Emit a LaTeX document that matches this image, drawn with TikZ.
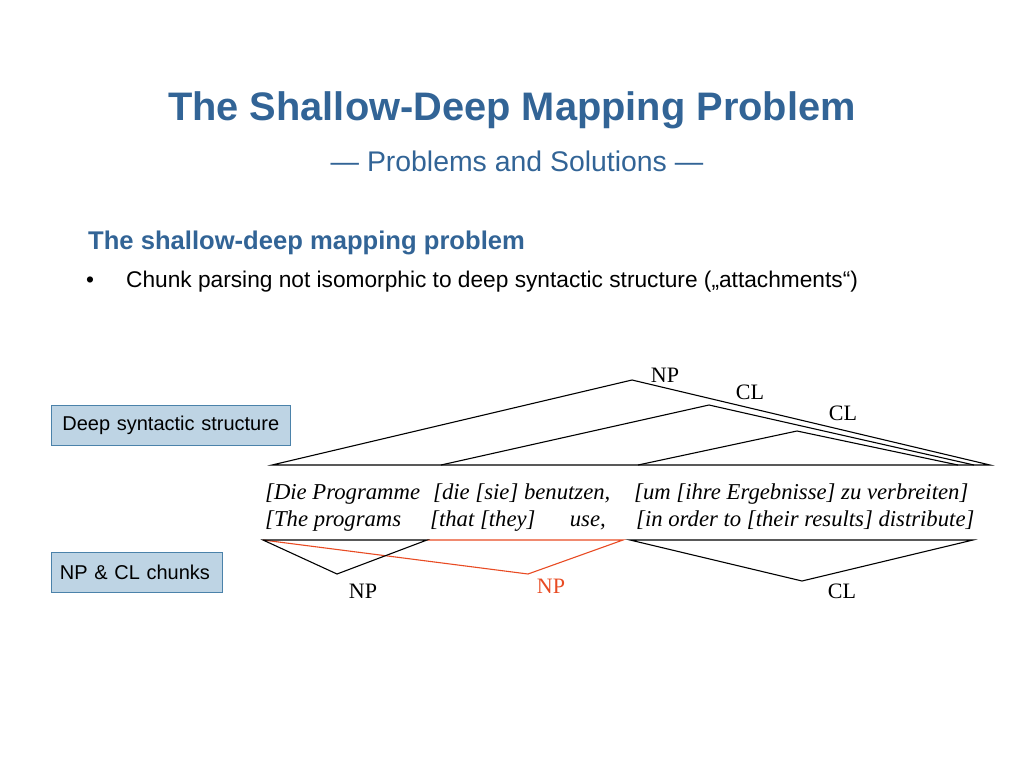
\documentclass[tikz,border=0pt]{standalone}
\usepackage{fontspec}
\setmainfont{Liberation Serif}
\setsansfont{Liberation Sans}
\definecolor{titleblue}{RGB}{50,100,150}
\definecolor{boxfill}{RGB}{190,212,228}
\definecolor{boxline}{RGB}{75,130,170}
\definecolor{chunkred}{RGB}{232,75,35}
\usetikzlibrary{positioning}
\tikzset{
  tag/.style={draw=boxline,fill=boxfill,line width=0.8pt,anchor=north west,
              inner xsep=11pt,align=left,minimum height=40pt,
              font=\sffamily\fontsize{20}{24}\selectfont},
  sent/.style={anchor=base west,inner sep=0pt,font=\itshape\fontsize{22.7}{26}\selectfont},
  cat/.style={inner sep=0pt,font=\fontsize{22}{26}\selectfont},
  tree/.style={line width=1.1pt,line join=miter},
}

\begin{document}
\begin{tikzpicture}[x=1pt,y=-1pt]
  \useasboundingbox (0,0) rectangle (1024,768);
  % heading
  \node[text=titleblue,font=\sffamily\bfseries\fontsize{39.8}{46}\selectfont] (title) at (512,110)
    {The Shallow-Deep Mapping Problem};
  \node[text=titleblue,font=\sffamily\fontsize{28.4}{32}\selectfont] (sub) at (517,161)
    {— Problems and Solutions —};
  \node[text=titleblue,anchor=west,inner sep=0pt,font=\sffamily\bfseries\fontsize{25.6}{30}\selectfont] (head) at (88,243)
    {The shallow-deep mapping problem};
  \node[anchor=west,inner sep=0pt,font=\sffamily\fontsize{22.7}{26}\selectfont] (dot) at (86,282) {•};
  \node[anchor=west,inner sep=0pt,font=\sffamily\fontsize{22.7}{26}\selectfont] (point) at (126,282)
    {Chunk parsing not isomorphic to deep syntactic structure („attachments“)};
  % side boxes
  \node[tag,text width=217pt] (deep) at (51,405) {Deep syntactic structure};
  \node[tag,text width=154pt,inner xsep=8.5pt] (chunks) at (51,552) {NP \& CL chunks};
  % sentence
  \node[sent] (de1) at (265,499) {[Die Programme};
  \node[sent] (de2) at (433,499) {[die [sie] benutzen,};
  \node[sent] (de3) at (634,499) {[um [ihre Ergebnisse] zu verbreiten]};
  \node[sent] (en1) at (265,526) {[The programs};
  \node[sent] (en2) at (430,526) {[that [they]};
  \node[sent,anchor=base east] (en3) at (606,526) {use,};
  \node[sent] (en4) at (636,526) {[in order to [their results] distribute]};
  % deep structure
  \coordinate (d1l) at (272,465); \coordinate (d1t) at (632,380); \coordinate (d1r) at (990,465);
  \coordinate (d2l) at (441,465); \coordinate (d2t) at (709,405); \coordinate (d2r) at (974,465);
  \coordinate (d3l) at (638,465); \coordinate (d3t) at (797,431); \coordinate (d3r) at (958,465);
  \draw[tree] (d1l) -- (d1t) -- (d1r) -- cycle;
  \draw[tree] (d2l) -- (d2t) -- (d2r);
  \draw[tree] (d3l) -- (d3t) -- (d3r);
  \node[cat] (np0) at (665,375) {NP};
  \node[cat] (cl1) at (750,392) {CL};
  \node[cat] (cl2) at (843,413) {CL};
  % chunks
  \coordinate (c1l) at (263,540); \coordinate (c1b) at (337,574); \coordinate (c1r) at (427,540);
  \coordinate (c2b) at (528,574); \coordinate (c2r) at (623,540);
  \coordinate (c3l) at (630,540); \coordinate (c3b) at (802,581); \coordinate (c3r) at (973,540);
  \draw[tree,chunkred] (c1l) -- (c2b) -- (c2r) -- (c1r);
  \draw[tree] (c1r) -- (c1l) -- (c1b) -- cycle;
  \draw[tree] (c3l) -- (c3b) -- (c3r) -- cycle;
  \node[cat] (np1) at (363,591) {NP};
  \node[cat,text=chunkred] (np2) at (551,586) {NP};
  \node[cat] (cl3) at (842,591) {CL};
\end{tikzpicture}
\end{document}
